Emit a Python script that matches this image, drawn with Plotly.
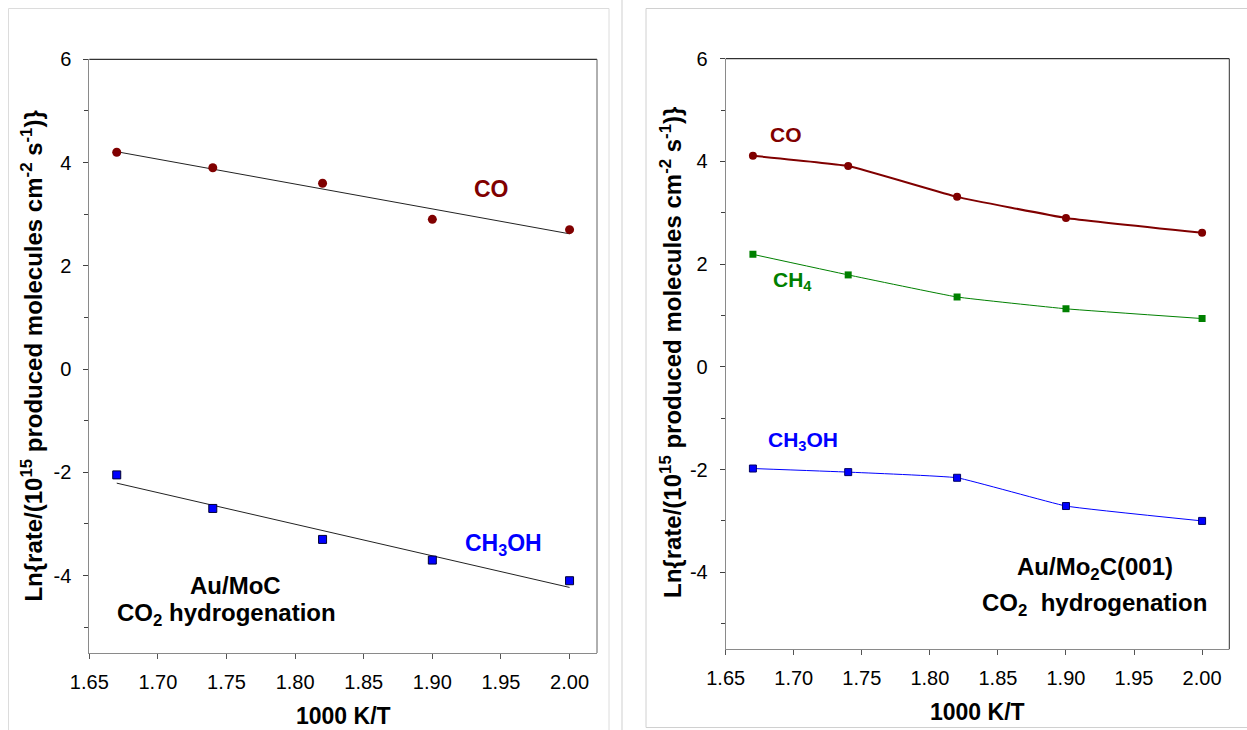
import plotly.graph_objects as go

# ---------------- data ----------------
inv_T = [1.67, 1.74, 1.82, 1.90, 2.00]

# Left panel: Au/MoC
left_co = [4.2, 3.9, 3.6, 2.9, 2.7]
left_meoh = [-2.05, -2.7, -3.3, -3.7, -4.1]
fit_x = [1.67, 2.00]
left_co_fit = [4.21, 2.62]
left_meoh_fit = [-2.21, -4.23]

# Right panel: Au/Mo2C(001)
right_co = [4.11, 3.91, 3.31, 2.90, 2.61]
right_ch4 = [2.19, 1.79, 1.36, 1.13, 0.94]
right_meoh = [-1.98, -2.05, -2.16, -2.71, -3.00]

x_ticks = [1.65, 1.70, 1.75, 1.80, 1.85, 1.90, 1.95, 2.00]
x_ticktext = ["1.65", "1.70", "1.75", "1.80", "1.85", "1.90", "1.95", "2.00"]
y_ticks = [-4, -2, 0, 2, 4, 6]
y_ticktext = ["-4", "-2", "0", "2", "4", "6"]
y_minor = [-5, -3, -1, 1, 3, 5]

ytitle = "Ln{rate/(10<sup>15</sup> produced molecules cm<sup>-2</sup> s<sup>-1</sup>)}"

# ---------------- helpers ----------------
W, H = 1247, 730
FONT = "Liberation Sans, Arial, sans-serif"
DARKRED = "#800000"
GREEN = "#008000"
BLUE = "#0000FF"


def px(x):
    return x / W


def py(y):
    return 1 - y / H


fig = go.Figure()

# Left panel
fig.add_trace(go.Scatter(x=fit_x, y=left_co_fit, mode="lines", xaxis="x", yaxis="y",
                         line=dict(color="#222222", width=1)))
fig.add_trace(go.Scatter(x=fit_x, y=left_meoh_fit, mode="lines", xaxis="x", yaxis="y",
                         line=dict(color="#222222", width=1)))
fig.add_trace(go.Scatter(x=inv_T, y=left_co, mode="markers", xaxis="x", yaxis="y",
                         marker=dict(symbol="circle", size=9, color=DARKRED)))
fig.add_trace(go.Scatter(x=inv_T, y=left_meoh, mode="markers", xaxis="x", yaxis="y",
                         marker=dict(symbol="square", size=8, color=BLUE,
                                     line=dict(color="#000033", width=1))))

# Right panel
fig.add_trace(go.Scatter(x=inv_T, y=right_co, mode="lines+markers", xaxis="x2", yaxis="y2",
                         line=dict(color=DARKRED, width=2, shape="spline", smoothing=0.3),
                         marker=dict(symbol="circle", size=8, color=DARKRED)))
fig.add_trace(go.Scatter(x=inv_T, y=right_ch4, mode="lines+markers", xaxis="x2", yaxis="y2",
                         line=dict(color=GREEN, width=1, shape="spline", smoothing=0.3),
                         marker=dict(symbol="square", size=7, color=GREEN)))
fig.add_trace(go.Scatter(x=inv_T, y=right_meoh, mode="lines+markers", xaxis="x2", yaxis="y2",
                         line=dict(color=BLUE, width=1, shape="spline", smoothing=0.3),
                         marker=dict(symbol="square", size=7, color=BLUE,
                                     line=dict(color="#000066", width=1))))


def xaxis_cfg(domain, anchor):
    return dict(domain=domain, anchor=anchor, range=[1.65, 2.02], automargin=False,
                tickvals=x_ticks, ticktext=x_ticktext,
                ticks="outside", ticklen=5, tickcolor="#555555", tickwidth=1,
                showline=True, linecolor="#8a8a8a", linewidth=1,
                showgrid=False, zeroline=False, ticklabelstandoff=6,
                tickfont=dict(family=FONT, size=20, color="#000000"))


def yaxis_cfg(domain, anchor):
    return dict(domain=domain, anchor=anchor, range=[-5.5, 6], automargin=False,
                tickvals=y_ticks, ticktext=y_ticktext,
                ticks="outside", ticklen=5, tickcolor="#404040", tickwidth=1,
                minor=dict(tickvals=y_minor, ticks="outside", ticklen=4,
                           tickcolor="#404040", tickwidth=1, showgrid=False),
                showline=True, linecolor="#8a8a8a", linewidth=1,
                showgrid=False, zeroline=False, ticklabelstandoff=8,
                tickfont=dict(family=FONT, size=20, color="#000000"))


fig.update_layout(
    width=W, height=H, autosize=False,
    margin=dict(l=0, r=0, t=0, b=0, autoexpand=False),
    paper_bgcolor="white", plot_bgcolor="white",
    showlegend=False,
    xaxis=xaxis_cfg([px(89.3), px(597)], "y"),
    yaxis=yaxis_cfg([py(653), py(59.3)], "x"),
    xaxis2=xaxis_cfg([px(725.7), px(1229.3)], "y2"),
    yaxis2=yaxis_cfg([py(649.3), py(58.7)], "x2"),
)

shapes = []
# top and right box edges
for xr, yr, rc in (("x domain", "y domain", "#606060"), ("x2 domain", "y2 domain", "#303030")):
    shapes.append(dict(type="line", xref=xr, yref=yr, x0=0, x1=1, y0=1, y1=1,
                       line=dict(color="#000000", width=1)))
    shapes.append(dict(type="line", xref=xr, yref=yr, x0=1, x1=1, y0=0, y1=1,
                       line=dict(color=rc, width=1)))
# faint panel frames
shapes.append(dict(type="rect", xref="paper", yref="paper",
                   x0=px(8.5), x1=px(609), y0=py(745), y1=py(8.5),
                   line=dict(color="#dcdcdc", width=1)))
shapes.append(dict(type="line", xref="paper", yref="paper",
                   x0=px(622), x1=px(622), y0=0, y1=1,
                   line=dict(color="#cfcfcf", width=1)))
shapes.append(dict(type="rect", xref="paper", yref="paper",
                   x0=px(646), x1=px(1260), y0=py(727.5), y1=py(8.5),
                   line=dict(color="#d0d0d0", width=1)))
fig.update_layout(shapes=shapes)


def label(text, x, y, size, color="#000000", angle=0):
    fig.add_annotation(text=text, x=px(x), y=py(y), xref="paper", yref="paper",
                       showarrow=False, textangle=angle,
                       xanchor="center", yanchor="middle",
                       font=dict(family=FONT, size=size, color=color))


# left panel texts
label("<b>CO</b>", 491, 189, 23, DARKRED)
label("<b>CH<sub>3</sub>OH</b>", 503, 544, 23, BLUE)
label("<b>Au/MoC</b>", 235, 585, 24)
label("<b>CO<sub>2</sub> hydrogenation</b>", 226, 614, 24)
label("<b>" + ytitle + "</b>", 31.6, 356, 24, angle=-90)
label("<b>1000 K/T</b>", 343, 716, 23)

# right panel texts
label("<b>CO</b>", 786, 134, 21, DARKRED)
label("<b>CH<sub>4</sub></b>", 792, 281, 21, GREEN)
label("<b>CH<sub>3</sub>OH</b>", 803, 441, 21, BLUE)
label("<b>Au/Mo<sub>2</sub>C(001)</b>", 1095, 568, 24)
label("<b>CO<sub>2</sub>&nbsp; hydrogenation</b>", 1094, 604, 24)
label("<b>" + ytitle + "</b>", 671, 353, 24, angle=-90)
label("<b>1000 K/T</b>", 977, 712, 23)

fig.write_html("out.html")
